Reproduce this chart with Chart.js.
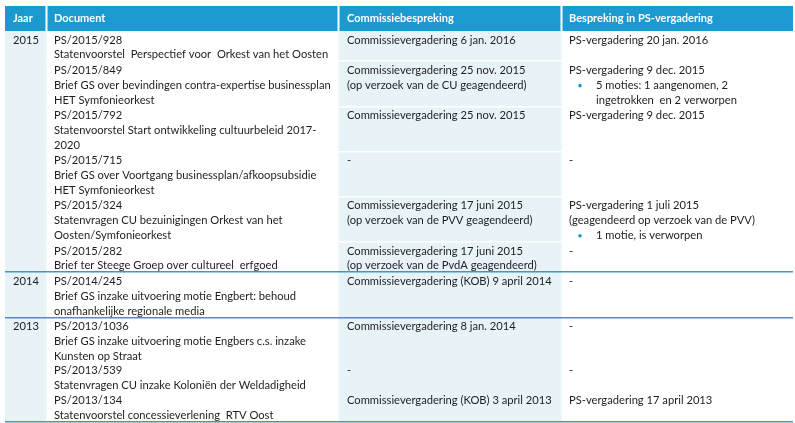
<!DOCTYPE html>
<html><head><meta charset="utf-8">
<script src="https://cdn.jsdelivr.net/npm/chart.js@4.4.1/dist/chart.umd.min.js"></script>
<style>html,body{margin:0;padding:0;background:#fff}#wrap{width:795px;height:423px;position:relative}</style>
</head><body><div id="wrap"><canvas id="c"></canvas></div>
<script>
// ---- data ----
const headers = ['Jaar', 'Document', 'Commissiebespreking', 'Bespreking in PS-vergadering'];
const years = ['2015', '2014', '2013'];
const rowYear = [0, 0, 0, 0, 0, 0, 1, 2];
const docLines = [
  ['PS/2015/928', 'Statenvoorstel  Perspectief voor  Orkest van het Oosten'],
  ['PS/2015/849', 'Brief GS over bevindingen contra-expertise businessplan', 'HET Symfonieorkest'],
  ['PS/2015/792', 'Statenvoorstel Start ontwikkeling cultuurbeleid 2017-', '2020'],
  ['PS/2015/715', 'Brief GS over Voortgang businessplan/afkoopsubsidie', 'HET Symfonieorkest'],
  ['PS/2015/324', 'Statenvragen CU bezuinigingen Orkest van het', 'Oosten/Symfonieorkest'],
  ['PS/2015/282', 'Brief ter Steege Groep over cultureel  erfgoed'],
  ['PS/2014/245', 'Brief GS inzake uitvoering motie Engbert: behoud', 'onafhankelijke regionale media'],
  ['PS/2013/1036', 'Brief GS inzake uitvoering motie Engbers c.s. inzake', 'Kunsten op Straat',
   'PS/2013/539', 'Statenvragen CU inzake Koloniën der Weldadigheid',
   'PS/2013/134', 'Statenvoorstel concessieverlening  RTV Oost']
];
const commLines = [
  ['Commissievergadering 6 jan. 2016'],
  ['Commissievergadering 25 nov. 2015', '(op verzoek van de CU geagendeerd)'],
  ['Commissievergadering 25 nov. 2015'],
  ['-'],
  ['Commissievergadering 17 juni 2015', '(op verzoek van de PVV geagendeerd)'],
  ['Commissievergadering 17 juni 2015', '(op verzoek van de PvdA geagendeerd)'],
  ['Commissievergadering (KOB) 9 april 2014'],
  ['Commissievergadering 8 jan. 2014', '', '', '-', '', 'Commissievergadering (KOB) 3 april 2013']
];
const psLines = [
  ['PS-vergadering 20 jan. 2016'],
  ['PS-vergadering 9 dec. 2015', '5 moties: 1 aangenomen, 2', 'ingetrokken  en 2 verworpen'],
  ['PS-vergadering 9 dec. 2015'],
  ['-'],
  ['PS-vergadering 1 juli 2015', '(geagendeerd op verzoek van de PVV)', '1 motie, is verworpen'],
  ['-'],
  ['-'],
  ['-', '', '', '-', '', 'PS-vergadering 17 april 2013']
];
// 0 = plain line, 1 = bullet item, 2 = continuation of bullet item
const psBullet = [[0], [0, 1, 2], [0], [0], [0, 0, 1], [0], [0], [0, 0, 0, 0, 0, 0]];

// ---- layout / style ----
const FONT = 'Lato, "Open Sans", sans-serif';
const HEADER_BLUE = '#1b9ad0';
const LIGHT_BLUE = '#e8f3f8';
const GROUP_LINE = '#2f9fca';
const TEXT = '#1e1e1e';
const colEdges = [5, 46.5, 338.5, 561.5, 793];
const textX = [13, 54, 347, 569];
const bulletX = 580, bulletTextX = 596;
const headerTop = 6, headerBottom = 31;
const linePitch = 14.75, rowPad = 0.9, firstLine = 9;

const rowLines = docLines.map((d, i) => Math.max(d.length, commLines[i].length, psLines[i].length));

function fitSize(ctx, weight, sample, target) {
  ctx.font = weight + ' 100px ' + FONT;
  return 100 * target / ctx.measureText(sample).width;
}

const tablePlugin = {
  id: 'table',
  afterDraw(chart) {
    const { ctx, scales: { x, y } } = chart;
    const X = v => x.getPixelForValue(v), Y = v => y.getPixelForValue(v);
    ctx.save();
    const regSize = fitSize(ctx, 'normal', 'Brief GS over bevindingen contra-expertise businessplan', 277);
    const boldSize = fitSize(ctx, 'bold', 'Bespreking in PS-vergadering', 144);

    // row boundaries
    const tops = [];
    let t = headerBottom;
    rowLines.forEach(n => { tops.push(t); t += n * linePitch + rowPad; });
    const bottom = t;

    // column backgrounds
    ctx.fillStyle = LIGHT_BLUE;
    ctx.fillRect(X(colEdges[0]), Y(headerBottom), X(colEdges[1]) - X(colEdges[0]), Y(bottom) - Y(headerBottom));
    ctx.fillRect(X(colEdges[2]), Y(headerBottom), X(colEdges[3]) - X(colEdges[2]), Y(bottom) - Y(headerBottom));

    // header
    ctx.fillStyle = HEADER_BLUE;
    ctx.fillRect(X(colEdges[0]), Y(headerTop), X(colEdges[4]) - X(colEdges[0]), Y(headerBottom) - Y(headerTop));
    ctx.fillStyle = '#ffffff';
    for (let i = 1; i < 4; i++) ctx.fillRect(X(colEdges[i]) - 1, Y(headerTop), 2, Y(headerBottom) - Y(headerTop));
    ctx.font = 'bold ' + boldSize + 'px ' + FONT;
    ctx.textBaseline = 'middle';
    headers.forEach((h, i) => ctx.fillText(h, X(textX[i]), Y((headerTop + headerBottom) / 2)));

    // row separators (white within a year group, blue between groups)
    for (let i = 1; i < rowLines.length; i++) {
      if (rowYear[i] === rowYear[i - 1]) {
        ctx.fillStyle = '#ffffff';
        ctx.fillRect(X(colEdges[1]), Math.round(Y(tops[i])) - 1, X(colEdges[4]) - X(colEdges[1]), 1.5);
      }
    }
    ctx.fillStyle = GROUP_LINE;
    for (let i = 1; i < rowLines.length; i++) {
      if (rowYear[i] !== rowYear[i - 1]) ctx.fillRect(X(colEdges[0]), Math.round(Y(tops[i])) - 1, X(colEdges[4]) - X(colEdges[0]), 1.5);
    }
    ctx.fillRect(X(colEdges[0]), Math.round(Y(bottom)) - 1, X(colEdges[4]) - X(colEdges[0]), 1.5);

    // text
    ctx.font = 'normal ' + regSize + 'px ' + FONT;
    ctx.fillStyle = TEXT;
    const lineY = (r, k) => Y(tops[r] + firstLine + k * linePitch);
    rowLines.forEach((n, r) => {
      if (r === 0 || rowYear[r] !== rowYear[r - 1]) ctx.fillText(years[rowYear[r]], X(textX[0]), lineY(r, 0));
      docLines[r].forEach((s, k) => ctx.fillText(s, X(textX[1]), lineY(r, k)));
      commLines[r].forEach((s, k) => { if (s) ctx.fillText(s, X(textX[2]), lineY(r, k)); });
      psLines[r].forEach((s, k) => {
        if (!s) return;
        const kind = psBullet[r][k] || 0;
        if (kind === 0) { ctx.fillText(s, X(textX[3]), lineY(r, k)); return; }
        if (kind === 1) {
          ctx.fillStyle = HEADER_BLUE;
          ctx.beginPath(); ctx.arc(X(bulletX), lineY(r, k) + 0.5, 1.8, 0, Math.PI * 2); ctx.fill();
          ctx.fillStyle = TEXT;
        }
        ctx.fillText(s, X(bulletTextX), lineY(r, k));
      });
    });
    ctx.restore();
  }
};

new Chart(document.getElementById('c'), {
  type: 'scatter',
  data: { datasets: [{ data: [], pointRadius: 0 }] },
  options: {
    responsive: true, maintainAspectRatio: false, animation: false,
    layout: { padding: 0 },
    plugins: { legend: { display: false }, tooltip: { enabled: false } },
    scales: {
      x: { type: 'linear', min: 0, max: 795, display: false },
      y: { type: 'linear', min: 0, max: 423, reverse: true, display: false }
    }
  },
  plugins: [tablePlugin]
});
</script></body></html>
